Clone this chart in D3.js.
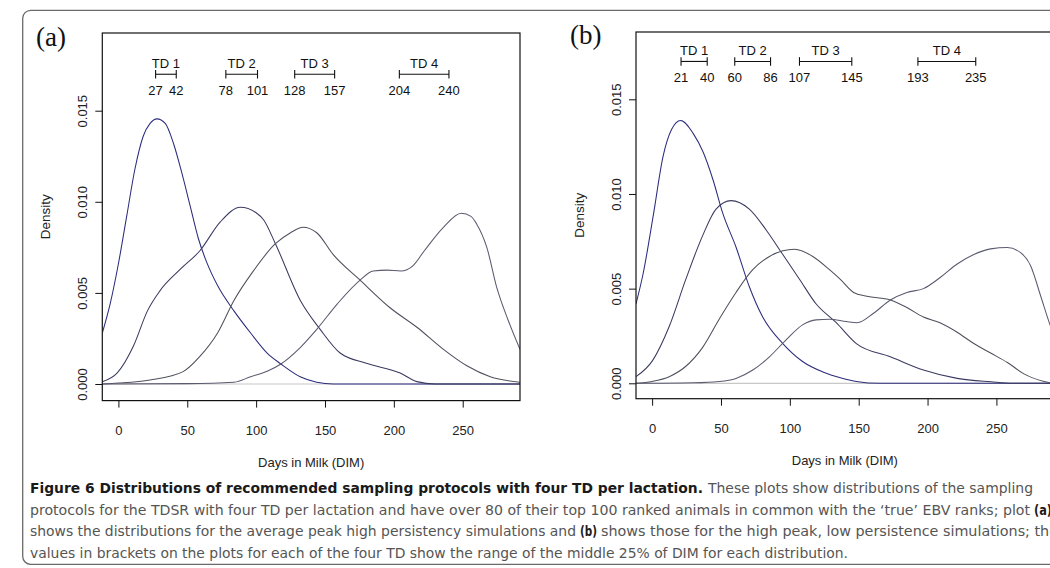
<!DOCTYPE html>
<html>
<head>
<meta charset="utf-8">
<script src="https://cdn.jsdelivr.net/npm/d3@7"></script>
<style>
  body { margin: 0; background: #fff; }
  svg { display: block; }
</style>
</head>
<body>
<svg id="chart" width="1050" height="568"></svg>
<script>
// ---- data ----
var xTicks = [0, 50, 100, 150, 200, 250];
var yTicks = [0, 0.005, 0.010, 0.015];
var tdNames = ["TD 1", "TD 2", "TD 3", "TD 4"];

// middle 25% ranges of DIM, per TD
var aRanges = [[27, 42], [78, 101], [128, 157], [204, 240]];
var bRanges = [[21, 40], [60, 86], [107, 145], [193, 235]];

// density curves, [DIM, density]
var aTD1 = [[-11.7, 0.0028], [-6, 0.0044], [0, 0.0066], [6, 0.0092], [12, 0.0118], [18, 0.0136],
  [23, 0.0143], [28, 0.01455], [34, 0.0143], [40, 0.0132], [46, 0.0116], [52, 0.0098],
  [58, 0.0080], [64, 0.0067], [72, 0.0054], [84, 0.0040], [96, 0.0028], [108, 0.0017],
  [118, 0.0011], [132, 0.0004], [144, 0.0001], [156, 0], [291.6, 0]];
var aTD2 = [[-11.7, 0.00013], [-1, 0.0006], [11, 0.0021], [21, 0.0040], [30, 0.0051], [45, 0.0063],
  [59, 0.0073], [74, 0.0089], [88.5, 0.0097], [100, 0.0094], [105.5, 0.0090], [114, 0.0077],
  [132, 0.0046], [146.5, 0.0030], [161, 0.0017], [180, 0.00114], [204.6, 0.0006],
  [216.7, 0.00013], [230, 0], [291.6, 0]];
var aTD3 = [[-11.7, 0], [0, 0.00005], [23, 0.00022], [47, 0.00068], [59, 0.0015], [72, 0.0028],
  [84, 0.0046], [97, 0.0061], [114, 0.0077], [125, 0.0083], [134, 0.0086], [144, 0.0083],
  [156, 0.0071], [175.5, 0.0057], [197, 0.0042], [217, 0.0031], [236, 0.0019], [253, 0.0010],
  [270, 0.0004], [291.6, 0.0001]];
var aTD4 = [[-11.7, 0], [50, 0.00002], [84, 0.0001], [96, 0.0004], [108, 0.0007], [118, 0.0011],
  [132, 0.0020], [144, 0.0030], [159, 0.0044], [175.5, 0.0057], [185, 0.0062], [195, 0.00625],
  [205, 0.0062], [214, 0.0065], [222, 0.0073], [236, 0.0086], [249, 0.00937], [256, 0.0092],
  [260, 0.0088], [267.5, 0.0075], [274.7, 0.0053], [283, 0.0035], [291.6, 0.0019]];

var bTD1 = [[-11.7, 0.0042], [-6.5, 0.0058], [0.7, 0.0088], [8, 0.0120], [14.1, 0.0134],
  [20.7, 0.01388], [29.8, 0.0132], [37.1, 0.0122], [44.2, 0.01075], [51.2, 0.0090],
  [60.9, 0.0072], [70.6, 0.0051], [80.3, 0.0035], [94.9, 0.0021], [109.5, 0.00114],
  [124, 0.0006], [138.6, 0.00026], [148.3, 0.0001], [165, 0], [291.6, 0]];
var bTD2 = [[-11.7, 0.00035], [0.3, 0.0012], [12.4, 0.0030], [24.5, 0.0055], [36.7, 0.0078],
  [46.4, 0.0092], [57.3, 0.00965], [70.6, 0.0092], [82.8, 0.0081], [94.9, 0.0068], [107, 0.0055],
  [119, 0.0042], [133.7, 0.0032], [148.3, 0.0021], [173, 0.0014], [197, 0.0007],
  [221.5, 0.00026], [246, 0.00008], [262, 0], [291.6, 0]];
var bTD3 = [[-11.7, 0], [0, 0.0001], [12.4, 0.00035], [24.5, 0.0009], [36.7, 0.0019], [48.8, 0.0034],
  [60.9, 0.0048], [73.1, 0.0060], [85.2, 0.0067], [94.9, 0.0070], [103.4, 0.00708], [116.7, 0.0067],
  [128.8, 0.0060], [136.5, 0.0055], [146.3, 0.0048], [156, 0.0046], [173, 0.0044], [185, 0.0040],
  [197, 0.0035], [209, 0.0032], [221.5, 0.0027], [233.6, 0.0021], [245.8, 0.0016], [258, 0.0011],
  [270, 0.0005], [284.6, 0.0001], [291.6, 0]];
var bTD4 = [[-11.7, 0], [30, 0.00003], [48.8, 0.0001], [60.9, 0.00026], [73.1, 0.0007], [85.2, 0.0014],
  [97.3, 0.0023], [109.5, 0.0031], [119.1, 0.00335], [128.8, 0.00338], [141, 0.00326],
  [148.8, 0.0032], [160.8, 0.0037], [173, 0.0044], [185, 0.0048], [197, 0.0050], [209.4, 0.0056],
  [221.5, 0.0063], [233.6, 0.0068], [245.8, 0.0071], [257.9, 0.00717], [267.6, 0.0069],
  [274.9, 0.0062], [282.2, 0.0046], [289.4, 0.0030], [291.6, 0.0026]];

// caption pieces: [text, bold]
var captionLines = [
  [["Figure 6 Distributions of recommended sampling protocols with four TD per lactation.", true],
   ["These plots show distributions of the sampling", false]],
  [["protocols for the TDSR with four TD per lactation and have over 80 of their top 100 ranked animals in common with the \u2018true\u2019 EBV ranks; plot", false],
   ["(a)", true]],
  [["shows the distributions for the average peak high persistency simulations and", false],
   ["(b)", true],
   ["shows those for the high peak, low persistence simulations; the", false]],
  [["values in brackets on the plots for each of the four TD show the range of the middle 25% of DIM for each distribution.", false]]
];

// ---- drawing ----
var svg = d3.select("#chart");
var sans = '"Liberation Sans", Arial, Helvetica, sans-serif';
var lineCols = ["#2c2c7c", "#3a3a60", "#50505e", "#5a5a70"];

// outer rounded frame
svg.append("rect")
  .attr("x", 22.7).attr("y", 10.3)
  .attr("width", 1100).attr("height", 554)
  .attr("rx", 8)
  .attr("fill", "none").attr("stroke", "#6a6a6a").attr("stroke-width", 1.3);

var panels = [
  { tag: "(a)", tagX: 36, tagY: 45.5, l: 102.3, r: 520, t: 33, b: 400.6,
    yDom: [-0.000911, 0.019264], curves: [aTD1, aTD2, aTD3, aTD4], ranges: aRanges },
  { tag: "(b)", tagX: 570, tagY: 44, l: 636, r: 1053.7, t: 32, b: 398.7,
    yDom: [-0.000813, 0.018555], curves: [bTD1, bTD2, bTD3, bTD4], ranges: bRanges }
];

panels.forEach(function(p, pi) {
  var x = d3.scaleLinear().domain([-11.7, 291.6]).range([p.l, p.r]);
  var y = d3.scaleLinear().domain(p.yDom).range([p.b, p.t]);

  svg.append("text")
    .attr("x", p.tagX).attr("y", p.tagY)
    .attr("font-family", '"Liberation Serif", "Times New Roman", serif')
    .attr("font-size", 27).attr("fill", "#111")
    .text(p.tag);

  var clipId = "clip" + pi;
  svg.append("clipPath").attr("id", clipId)
    .append("rect")
      .attr("x", p.l).attr("y", p.t)
      .attr("width", p.r - p.l).attr("height", p.b - p.t);

  var plot = svg.append("g").attr("clip-path", "url(#" + clipId + ")");

  // zero line
  plot.append("line")
    .attr("x1", p.l).attr("x2", p.r)
    .attr("y1", y(0)).attr("y2", y(0))
    .attr("stroke", "#c8c8c8").attr("stroke-width", 1.2);

  var line = d3.line()
    .x(function(d) { return x(d[0]); })
    .y(function(d) { return y(d[1]); })
    .curve(d3.curveMonotoneX);

  p.curves.forEach(function(c, ci) {
    plot.append("path")
      .attr("d", line(c))
      .attr("fill", "none")
      .attr("stroke", lineCols[ci])
      .attr("stroke-width", 1.05);
  });

  // box
  svg.append("rect")
    .attr("x", p.l).attr("y", p.t)
    .attr("width", p.r - p.l).attr("height", p.b - p.t)
    .attr("fill", "none").attr("stroke", "#111").attr("stroke-width", 1.2);

  // x axis
  var gx = svg.append("g")
    .attr("transform", "translate(0," + p.b + ")")
    .call(d3.axisBottom(x).tickValues(xTicks).tickSize(7).tickPadding(18.5));
  gx.select(".domain").remove();
  gx.selectAll(".tick line").attr("stroke", "#111");
  gx.selectAll(".tick text").attr("font-size", 13).attr("fill", "#222").attr("font-family", sans);

  // y axis, R style rotated labels
  var gy = svg.append("g")
    .attr("transform", "translate(" + p.l + ",0)")
    .call(d3.axisLeft(y).tickValues(yTicks).tickSize(7).tickFormat(d3.format(".3f")));
  gy.select(".domain").remove();
  gy.selectAll(".tick line").attr("stroke", "#111");
  gy.selectAll(".tick text")
    .attr("x", null).attr("dy", null)
    .attr("font-size", 13).attr("fill", "#222").attr("font-family", sans)
    .attr("text-anchor", "middle")
    .attr("transform", "translate(-15.5,0) rotate(-90)");

  svg.append("text")
    .attr("transform", "translate(" + (p.l - 52.5) + "," + ((p.t + p.b) / 2) + ") rotate(-90)")
    .attr("text-anchor", "middle")
    .attr("font-family", sans).attr("font-size", 13.5).attr("fill", "#222")
    .text("Density");

  svg.append("text")
    .attr("x", (x(-11.7) + x(291.6)) / 2)
    .attr("y", p.b + 66.5)
    .attr("text-anchor", "middle")
    .attr("font-family", sans).attr("font-size", 13).attr("fill", "#222")
    .text("Days in Milk (DIM)");

  // TD range brackets
  var barY = y(0.017);
  p.ranges.forEach(function(rg, ri) {
    var g = svg.append("g");
    var x0 = x(rg[0]), x1 = x(rg[1]);
    g.append("line").attr("x1", x0).attr("x2", x1).attr("y1", barY).attr("y2", barY)
      .attr("stroke", "#111").attr("stroke-width", 1.1);
    [x0, x1].forEach(function(xx) {
      g.append("line").attr("x1", xx).attr("x2", xx)
        .attr("y1", barY - 4.3).attr("y2", barY + 4.3)
        .attr("stroke", "#111").attr("stroke-width", 1.1);
    });
    g.append("text")
      .attr("x", (x0 + x1) / 2).attr("y", barY - 6.5)
      .attr("text-anchor", "middle")
      .attr("font-family", sans).attr("font-size", 13).attr("fill", "#111")
      .text(tdNames[ri]);
    rg.forEach(function(v) {
      g.append("text")
        .attr("x", x(v)).attr("y", barY + 20.5)
        .attr("text-anchor", "middle")
        .attr("font-family", sans).attr("font-size", 13).attr("fill", "#111")
        .text(v);
    });
  });
});

// caption: each piece squeezed into the span it takes in the figure
var capY = [493, 514.5, 536, 557.5];
var capSpans = [
  [[30, 703], [708, 1033]],
  [[30, 1030], [1034, 1052]],
  [[30, 576], [580, 597], [601, 1058]],
  [[30, 848]]
];
captionLines.forEach(function(segs, li) {
  segs.forEach(function(s, si) {
    var sp = capSpans[li][si];
    svg.append("text")
      .attr("x", sp[0]).attr("y", capY[li])
      .attr("font-family", '"Liberation Sans Narrow", "DejaVu Sans Condensed", "Open Sans", sans-serif')
      .attr("font-size", 14.5)
      .attr("font-weight", s[1] ? "bold" : "normal")
      .attr("fill", s[1] ? "#1a1a1a" : "#555")
      .attr("textLength", sp[1] - sp[0])
      .attr("lengthAdjust", "spacingAndGlyphs")
      .text(s[0]);
  });
});
</script>
</body>
</html>
